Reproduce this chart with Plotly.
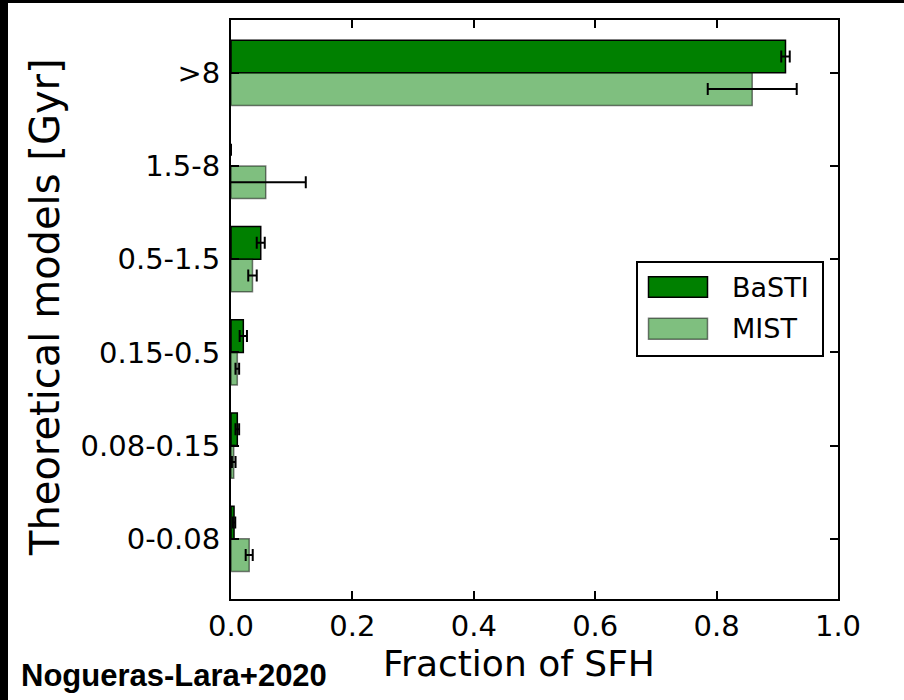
import plotly.graph_objects as go

categories = ["0-0.08", "0.08-0.15", "0.15-0.5", "0.5-1.5", "1.5-8", ">8"]
basti = [0.005, 0.0104, 0.0203, 0.049, 0.0, 0.9135]
basti_err = [0.002, 0.003, 0.006, 0.0066, 0.0, 0.007]
mist = [0.030, 0.0045, 0.0104, 0.0354, 0.0572, 0.8587]
mist_err = [0.0058, 0.003, 0.003, 0.007, 0.066, 0.0733]
series_names = ["BaSTI", "MIST"]
x_ticks = [0.0, 0.2, 0.4, 0.6, 0.8, 1.0]

FONT = "DejaVu Sans"
BAR_H = 0.35
TICK_SIZE = 29


def edge_widths(vals, w):
    return [w if v > 0 else 0 for v in vals]


def visible_err(vals, errs):
    return [e if v > 0 else None for v, e in zip(vals, errs)]


fig = go.Figure()
fig.add_trace(go.Bar(
    y=categories, x=basti, orientation="h", name=series_names[0],
    width=BAR_H, offset=0,
    marker=dict(color="#008000", line=dict(color="black", width=edge_widths(basti, 1.5))),
    error_x=dict(type="data", array=visible_err(basti, basti_err), color="black", thickness=2, width=6),
    showlegend=False,
))
fig.add_trace(go.Bar(
    y=categories, x=mist, orientation="h", name=series_names[1],
    width=BAR_H, offset=-BAR_H,
    marker=dict(color="rgba(0,128,0,0.5)", line=dict(color="rgba(0,0,0,0.5)", width=edge_widths(mist, 1.5))),
    error_x=dict(type="data", array=visible_err(mist, mist_err), color="black", thickness=2, width=6),
    showlegend=False,
))

L, R, T, B = 231, 66, 20, 101
W, H = 904, 700
pw = W - L - R
ph = H - T - B


def px(xp):
    return (xp - L) / pw


def py(yp):
    return (H - B - yp) / ph


shapes = []
annotations = []

# legend box
shapes.append(dict(type="rect", xref="paper", yref="paper",
                   x0=px(637), x1=px(823), y0=py(356), y1=py(262),
                   line=dict(color="black", width=2), fillcolor="white", layer="above"))
legend_fill = ["#008000", "rgba(0,128,0,0.5)"]
legend_line = ["black", "rgba(0,0,0,0.5)"]
legend_rows = [(276.7, 297.3), (318.3, 339.3)]
for i, name in enumerate(series_names):
    y0p, y1p = legend_rows[i]
    shapes.append(dict(type="rect", xref="paper", yref="paper",
                       x0=px(648.5), x1=px(707.5), y0=py(y1p), y1=py(y0p),
                       line=dict(color=legend_line[i], width=1.5), fillcolor=legend_fill[i], layer="above"))
    annotations.append(dict(text=name, xref="paper", yref="paper",
                            x=px(730), y=py((y0p + y1p) / 2), xanchor="left", yanchor="middle",
                            showarrow=False, font=dict(family=FONT, size=27, color="black")))

# black strips at left/top of picture
shapes.append(dict(type="rect", xref="paper", yref="paper",
                   x0=px(0), x1=px(8), y0=py(700), y1=py(0),
                   line=dict(width=0), fillcolor="black", layer="above"))
shapes.append(dict(type="rect", xref="paper", yref="paper",
                   x0=px(0), x1=px(904), y0=py(3), y1=py(0),
                   line=dict(width=0), fillcolor="black", layer="above"))

annotations.append(dict(text="Fraction of SFH", xref="paper", yref="paper",
                        x=px(519), y=py(663), xanchor="center", yanchor="middle",
                        showarrow=False, font=dict(family=FONT, size=36, color="black")))
annotations.append(dict(text="Theoretical models [Gyr]", xref="paper", yref="paper",
                        x=px(45), y=py(307), xanchor="center", yanchor="middle", textangle=-90,
                        showarrow=False, font=dict(family=FONT, size=40, color="black")))
annotations.append(dict(text="<b>Nogueras-Lara+2020</b>", xref="paper", yref="paper",
                        x=px(19), y=py(675), xanchor="left", yanchor="middle",
                        showarrow=False, font=dict(family="Liberation Sans", size=31, color="black")))

fig.update_layout(
    width=W, height=H,
    margin=dict(l=L, r=R, t=T, b=B, pad=0),
    paper_bgcolor="white", plot_bgcolor="white",
    barmode="overlay",
    shapes=shapes, annotations=annotations,
    font=dict(family=FONT, size=TICK_SIZE, color="black"),
)
fig.update_xaxes(
    range=[0, 1], tickvals=x_ticks, ticktext=[f"{v:.1f}" for v in x_ticks],
    ticks="inside", ticklen=8, tickwidth=1.5, tickcolor="black",
    showline=True, linecolor="black", linewidth=2, mirror="ticks",
    showgrid=False, zeroline=False,
    tickfont=dict(family=FONT, size=TICK_SIZE, color="black"),
)
fig.update_yaxes(
    type="category", categoryorder="array", categoryarray=categories,
    range=[-0.646, 5.566],
    ticks="inside", ticklen=8, tickwidth=1.5, tickcolor="black",
    showline=True, linecolor="black", linewidth=2, mirror="ticks",
    showgrid=False, zeroline=False, ticklabelstandoff=3,
    tickfont=dict(family=FONT, size=TICK_SIZE, color="black"),
)

fig.write_html(
    "out.html",
    config={"displayModeBar": False},
    post_script="document.body.style.margin='0px';document.body.style.overflow='hidden';",
)
